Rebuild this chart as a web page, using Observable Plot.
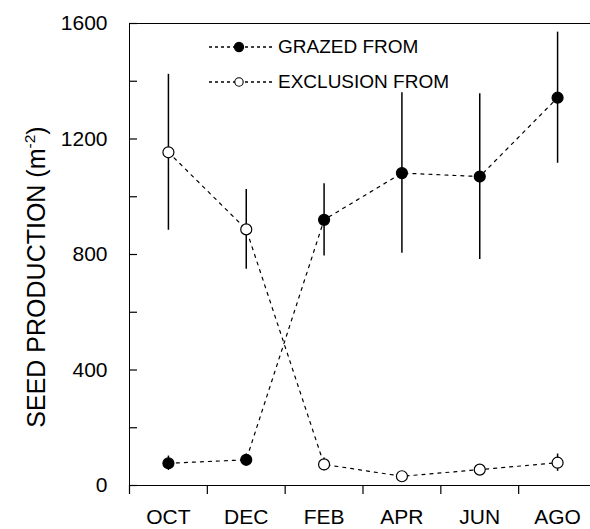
<!DOCTYPE html>
<html><head><meta charset="utf-8">
<script src="https://cdn.jsdelivr.net/npm/d3@7"></script>
<script src="https://cdn.jsdelivr.net/npm/@observablehq/plot@0.6"></script>
<style>
html,body{margin:0;padding:0;background:#fff;overflow:hidden;}
#wrap{position:relative;width:590px;height:529px;overflow:hidden;}
.leg{position:absolute;left:209px;height:20px;display:flex;align-items:center;font:19px "Liberation Sans",Arial,sans-serif;color:#000;white-space:nowrap;}
.leg svg{display:block;margin-right:3px;}
</style></head><body><div id="wrap"></div>
<script>
const months = ["OCT", "DEC", "FEB", "APR", "JUN", "AGO"];
const seriesNames = ["GRAZED FROM", "EXCLUSION FROM"];
const grazed = [77, 89, 920, 1082, 1070, 1343];
const grazedErr = [25, 20, 125, 278, 287, 227];
const exclusion = [1154, 887, 73, 32, 55, 79];
const exclusionErr = [270, 138, 22, 15, 15, 30];
const yTicksMajor = [0, 400, 800, 1200, 1600];
const yTicksMinor = [0, 200, 400, 600, 800, 1000, 1200, 1400, 1600];

const rows = months.flatMap((m, i) => [
  {i, month: m, series: seriesNames[0], value: grazed[i], err: grazedErr[i]},
  {i, month: m, series: seriesNames[1], value: exclusion[i], err: exclusionErr[i]}
]);

const font = "Liberation Sans, Arial, sans-serif";
const chart = Plot.plot({
  width: 590, height: 529,
  marginLeft: 129, marginRight: -6, marginTop: 23, marginBottom: 44,
  style: {fontFamily: font, background: "#fff", color: "#000"},
  x: {domain: [-0.5, 5.5], label: null},
  y: {domain: [0, 1600], label: null},
  marks: [
    Plot.frame({stroke: "#000", strokeWidth: 1}),
    Plot.axisY({ticks: yTicksMinor, tickSize: -8, text: null, label: null, strokeWidth: 1.2}),
    Plot.axisY({ticks: yTicksMajor, tickSize: 0, tickPadding: 22, fontSize: 21, label: null, tickFormat: d => String(d)}),
    Plot.axisX({ticks: months.map((m, i) => i - 0.5), tickSize: 9, text: null, label: null, strokeWidth: 1.2}),
    Plot.axisX({ticks: months.map((m, i) => i), tickSize: 0, tickPadding: 24, fontSize: 21, label: null, tickFormat: i => months[i]}),
    Plot.ruleX(rows, {x: "i", y1: d => d.value - d.err, y2: d => d.value + d.err, stroke: "#000", strokeWidth: 1.5}),
    Plot.line(rows, {x: "i", y: "value", z: "series", curve: "linear", stroke: "#000", strokeDasharray: "3,5", strokeWidth: 1.2}),
    Plot.dot(rows, {x: "i", y: "value", r: 5.5, fill: d => d.series === seriesNames[0] ? "#000" : "#fff", stroke: "#000", strokeWidth: 1.2})
  ]
});

const lab = d3.select(chart).append("text")
  .attr("transform", "translate(36,277) rotate(-90)")
  .attr("text-anchor", "middle")
  .attr("dominant-baseline", "central")
  .attr("font-family", font)
  .attr("font-size", 25)
  .attr("fill", "#000");
lab.append("tspan").text("SEED PRODUCTION (m");
lab.append("tspan").attr("font-size", 15.5).attr("baseline-shift", "7").text("-2");
lab.append("tspan").text(")");

const wrap = document.getElementById("wrap");
wrap.appendChild(chart);

function legendRow(centerY, filled, label) {
  const div = document.createElement("div");
  div.className = "leg";
  div.style.top = (centerY - 10) + "px";
  const s = d3.create("svg").attr("width", 66).attr("height", 14);
  s.append("line").attr("x1", 0).attr("x2", 66).attr("y1", 7).attr("y2", 7)
    .attr("stroke", "#000").attr("stroke-width", 1.3).attr("stroke-dasharray", "3,3");
  s.append("circle").attr("cx", 30).attr("cy", 7).attr("r", filled ? 4.6 : 4.2)
    .attr("fill", filled ? "#000" : "#fff").attr("stroke", "#000").attr("stroke-width", 1.1);
  div.appendChild(s.node());
  const t = document.createElement("span");
  t.textContent = label;
  div.appendChild(t);
  wrap.appendChild(div);
}
legendRow(47, true, seriesNames[0]);
legendRow(82, false, seriesNames[1]);
</script>
</body></html>
